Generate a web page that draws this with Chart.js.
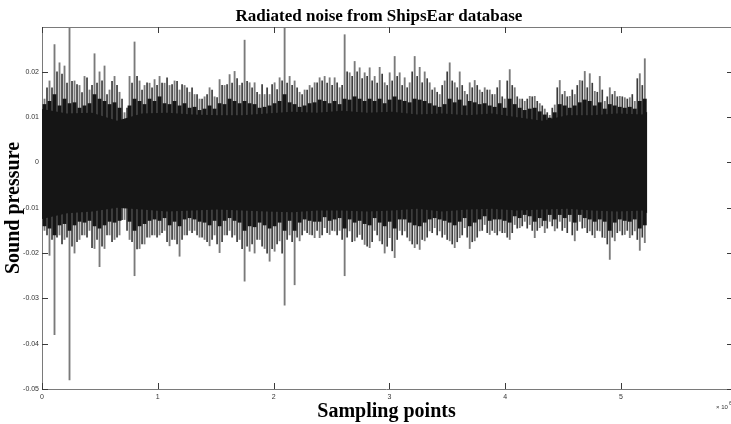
<!DOCTYPE html>
<html><head><meta charset="utf-8">
<script src="https://cdn.jsdelivr.net/npm/chart.js@4/dist/chart.umd.min.js"></script>
<style>html,body{margin:0;padding:0;background:#fff;}#wrap{width:731px;height:424px;}</style>
</head><body><div id="wrap"><canvas id="c" width="731" height="424"></canvas></div>
<script>
// ---- data ----
const binSize = 43200;           // samples per envelope bin
// outermost excursion in each bin (the thin spikes)
const peakHigh = [
 0.014,0.018,0.026,0.022,0.0213,0.030,0.018,0.017,0.019,0.016,
 0.024,0.020,0.0213,0.016,0.019,0.0155,0.011,0.019,0.0266,0.018,
 0.017,0.0175,0.0183,0.019,0.0175,0.017,0.018,0.016,0.017,0.0155,
 0.015,0.014,0.0145,0.0165,0.0145,0.0183,0.017,0.0194,0.0201,0.017,
 0.027,0.0176,0.0176,0.015,0.015,0.015,0.0176,0.0187,0.030,0.019,
 0.018,0.0155,0.016,0.017,0.0176,0.0187,0.019,0.0187,0.0187,0.0165,
 0.0282,0.0198,0.0223,0.0209,0.0198,0.0209,0.019,0.021,0.0176,0.0198,
 0.0234,0.0198,0.0187,0.0176,0.0234,0.021,0.020,0.0176,0.0165,0.015,
 0.018,0.022,0.0176,0.020,0.0157,0.0176,0.0181,0.016,0.0165,0.016,
 0.015,0.0181,0.014,0.0205,0.0165,0.014,0.0135,0.0146,0.0146,0.013,
 0.0118,0.0104,0.0127,0.0181,0.0157,0.0146,0.015,0.0181,0.0201,0.0196,
 0.0157,0.019,0.0135,0.0165,0.0157,0.0146,0.0143,0.0143,0.0135,0.0196,0.0229
];
const peakLow = [
 -0.015,-0.0205,-0.038,-0.016,-0.017,-0.048,-0.020,-0.017,-0.016,-0.015,
 -0.019,-0.023,-0.019,-0.016,-0.017,-0.016,-0.0126,-0.017,-0.025,-0.019,
 -0.018,-0.0165,-0.016,-0.016,-0.015,-0.0184,-0.017,-0.0207,-0.016,-0.015,
 -0.015,-0.0165,-0.017,-0.0184,-0.016,-0.0199,-0.016,-0.015,-0.016,-0.017,
 -0.0262,-0.0196,-0.020,-0.017,-0.019,-0.0218,-0.0196,-0.0173,-0.0315,-0.016,
 -0.027,-0.0173,-0.015,-0.0159,-0.0166,-0.0166,-0.0144,-0.0159,-0.0151,-0.015,
 -0.025,-0.0151,-0.0173,-0.0159,-0.0181,-0.0188,-0.015,-0.0173,-0.020,-0.0166,
 -0.021,-0.015,-0.0151,-0.0173,-0.0188,-0.0192,-0.0173,-0.0151,-0.0144,-0.0151,
 -0.0159,-0.0173,-0.0188,-0.0166,-0.0144,-0.019,-0.0173,-0.0151,-0.0137,-0.0159,
 -0.0155,-0.0151,-0.0155,-0.017,-0.0137,-0.0144,-0.013,-0.0137,-0.0166,-0.0144,
 -0.0155,-0.013,-0.0151,-0.013,-0.0144,-0.013,-0.0173,-0.013,-0.0144,-0.0151,
 -0.0166,-0.0151,-0.0166,-0.0214,-0.0173,-0.0151,-0.0159,-0.0166,-0.0151,-0.0194,-0.0177
];
// secondary excursions between neighbouring bins
const midHigh = [
 0.0165,0.0165,0.0200,0.0195,0.0175,0.0179,0.0172,0.0154,0.0187,0.0170,
 0.0175,0.0180,0.0150,0.0179,0.0170,0.0140,0.0120,0.0175,0.0190,0.0160,
 0.0176,0.0165,0.0170,0.0175,0.0187,0.0172,0.0179,0.0172,0.0165,0.0165,
 0.0150,0.0140,0.0150,0.0160,0.0143,0.0170,0.0172,0.0175,0.0185,0.0175,
 0.0179,0.0165,0.0155,0.0172,0.0165,0.0172,0.0161,0.0180,0.0175,0.0170,
 0.0165,0.0150,0.0160,0.0165,0.0176,0.0180,0.0175,0.0170,0.0176,0.0170,
 0.0200,0.0190,0.0200,0.0185,0.0190,0.0180,0.0175,0.0195,0.0170,0.0180,
 0.0190,0.0170,0.0165,0.0200,0.0190,0.0176,0.0185,0.0160,0.0155,0.0170,
 0.0200,0.0180,0.0165,0.0170,0.0150,0.0165,0.0170,0.0155,0.0160,0.0150,
 0.0165,0.0145,0.0180,0.0170,0.0145,0.0140,0.0140,0.0145,0.0135,0.0125,
 0.0110,0.0120,0.0165,0.0150,0.0145,0.0160,0.0170,0.0180,0.0165,0.0175,
 0.0155,0.0160,0.0145,0.0150,0.0145,0.0145,0.0140,0.0150,0.0185,0.0170
];
const midLow = [
 -0.0160,-0.0170,-0.0165,-0.0180,-0.0165,-0.0185,-0.0175,-0.0160,-0.0165,-0.0188,
 -0.0170,-0.0185,-0.0160,-0.0175,-0.0165,-0.0126,-0.0150,-0.0175,-0.0191,-0.0180,
 -0.0165,-0.0160,-0.0165,-0.0155,-0.0175,-0.0170,-0.0180,-0.0170,-0.0160,-0.0155,
 -0.0160,-0.0165,-0.0175,-0.0170,-0.0180,-0.0175,-0.0160,-0.0165,-0.0175,-0.0190,
 -0.0185,-0.0180,-0.0170,-0.0185,-0.0200,-0.0190,-0.0180,-0.0200,-0.0170,-0.0175,
 -0.0165,-0.0160,-0.0155,-0.0160,-0.0150,-0.0160,-0.0155,-0.0150,-0.0160,-0.0170,
 -0.0165,-0.0175,-0.0165,-0.0170,-0.0185,-0.0175,-0.0160,-0.0180,-0.0185,-0.0195,
 -0.0170,-0.0160,-0.0165,-0.0180,-0.0180,-0.0170,-0.0165,-0.0155,-0.0160,-0.0165,
 -0.0170,-0.0180,-0.0175,-0.0160,-0.0165,-0.0175,-0.0165,-0.0150,-0.0155,-0.0150,
 -0.0160,-0.0155,-0.0165,-0.0155,-0.0145,-0.0140,-0.0145,-0.0150,-0.0150,-0.0140,
 -0.0145,-0.0140,-0.0145,-0.0150,-0.0155,-0.0160,-0.0150,-0.0145,-0.0155,-0.0160,
 -0.0150,-0.0165,-0.0180,-0.0165,-0.0155,-0.0160,-0.0150,-0.0160,-0.0170,-0.0165
];
// edge of the solid dark band in each bin
const innerHigh = [
 0.0128,0.0135,0.0150,0.0125,0.0140,0.0130,0.0132,0.0120,0.0125,0.0130,
 0.0150,0.0140,0.0135,0.0128,0.0132,0.0120,0.0090,0.0125,0.0140,0.0135,
 0.0128,0.0140,0.0135,0.0145,0.0130,0.0128,0.0135,0.0125,0.0130,0.0120,
 0.0122,0.0115,0.0118,0.0125,0.0118,0.0130,0.0128,0.0140,0.0135,0.0130,
 0.0135,0.0130,0.0128,0.0120,0.0122,0.0125,0.0130,0.0135,0.0150,0.0132,
 0.0128,0.0122,0.0125,0.0130,0.0132,0.0138,0.0135,0.0130,0.0135,0.0128,
 0.0140,0.0138,0.0145,0.0140,0.0135,0.0140,0.0135,0.0140,0.0130,0.0138,
 0.0145,0.0138,0.0135,0.0132,0.0140,0.0138,0.0135,0.0130,0.0125,0.0122,
 0.0128,0.0140,0.0132,0.0138,0.0125,0.0135,0.0132,0.0128,0.0130,0.0125,
 0.0122,0.0130,0.0120,0.0140,0.0128,0.0120,0.0115,0.0118,0.0120,0.0112,
 0.0105,0.0098,0.0110,0.0128,0.0125,0.0120,0.0125,0.0132,0.0138,0.0135,
 0.0125,0.0132,0.0118,0.0128,0.0125,0.0122,0.0120,0.0122,0.0118,0.0135,0.0140
];
const innerLow = [
 -0.0140,-0.0145,-0.0160,-0.0138,-0.0135,-0.0150,-0.0138,-0.0130,-0.0132,-0.0128,
 -0.0140,-0.0145,-0.0138,-0.0130,-0.0132,-0.0128,-0.0100,-0.0130,-0.0150,-0.0140,
 -0.0135,-0.0128,-0.0125,-0.0128,-0.0122,-0.0138,-0.0130,-0.0140,-0.0125,-0.0122,
 -0.0125,-0.0130,-0.0132,-0.0138,-0.0128,-0.0140,-0.0128,-0.0122,-0.0128,-0.0132,
 -0.0150,-0.0140,-0.0142,-0.0132,-0.0138,-0.0145,-0.0140,-0.0132,-0.0150,-0.0128,
 -0.0150,-0.0132,-0.0125,-0.0128,-0.0130,-0.0130,-0.0120,-0.0128,-0.0125,-0.0122,
 -0.0145,-0.0125,-0.0132,-0.0128,-0.0135,-0.0138,-0.0122,-0.0132,-0.0140,-0.0130,
 -0.0145,-0.0125,-0.0125,-0.0132,-0.0138,-0.0140,-0.0132,-0.0125,-0.0122,-0.0125,
 -0.0128,-0.0132,-0.0138,-0.0130,-0.0122,-0.0140,-0.0132,-0.0125,-0.0118,-0.0128,
 -0.0125,-0.0125,-0.0128,-0.0132,-0.0118,-0.0122,-0.0115,-0.0118,-0.0130,-0.0122,
 -0.0128,-0.0115,-0.0125,-0.0115,-0.0122,-0.0115,-0.0132,-0.0115,-0.0122,-0.0125,
 -0.0130,-0.0125,-0.0130,-0.0150,-0.0132,-0.0125,-0.0128,-0.0130,-0.0125,-0.0145,-0.0138
];
const coreStep = 5;              // envelope bins per core point
const coreHigh = [0.0118,0.0108,0.0110,0.0092,0.0108,0.0110,0.0106,0.0104,0.0104,0.0108,0.0112,0.0110,0.0114,
                  0.0110,0.0112,0.0106,0.0108,0.0104,0.0108,0.0100,0.0092,0.0104,0.0104,0.0108,0.0106,0.0112];
const coreLow  = [-0.0125,-0.0112,-0.0108,-0.0100,-0.0104,-0.0108,-0.0106,-0.0104,-0.0106,-0.0108,-0.0110,-0.0106,-0.0106,
                  -0.0108,-0.0106,-0.0102,-0.0108,-0.0104,-0.0102,-0.0106,-0.0104,-0.0102,-0.0106,-0.0108,-0.0106,-0.0112];
const xTickValues = [0,1,2,3,4,5];           // x 10^6
const yTickValues = [-0.05,-0.04,-0.03,-0.02,-0.01,0,0.01,0.02];
const xMax = 5.95e6, yMin = -0.05, yMax = 0.0299;

// ---- build datasets ----
const nBins = peakHigh.length;
const spikeData = peakHigh.map((h,i)=>({x:(i+0.5)*binSize, y:[peakLow[i], h]}));
const midData = midHigh.map((h,i)=>({x:(i+1)*binSize, y:[midLow[i], h]}));
const innerData = innerHigh.map((h,i)=>({x:(i+0.5)*binSize, y:[innerLow[i], h]}));
const coreX = k => Math.min(k*coreStep, nBins)*binSize;
const coreHiData = coreHigh.map((v,k)=>({x:coreX(k), y:v}));
const coreLoData = coreLow.map((v,k)=>({x:coreX(k), y:v}));

const axisColor = '#7a7a7a';
const frame = {
  id:'frame',
  beforeDatasetsDraw(chart){
    const {ctx, chartArea:a, scales:{x,y}} = chart;
    ctx.save();
    ctx.strokeStyle = axisColor; ctx.lineWidth = 1;
    ctx.beginPath();
    ctx.moveTo(a.left+0.5, a.bottom+0.5); ctx.lineTo(a.left+0.5, a.top+0.5); ctx.lineTo(731, a.top+0.5);
    ctx.moveTo(a.left, a.bottom+0.5); ctx.lineTo(731, a.bottom+0.5);
    ctx.stroke();
    ctx.strokeStyle = '#3a3a3a';
    ctx.beginPath();
    xTickValues.forEach(v=>{
      const px = Math.round(x.getPixelForValue(v*1e6))+0.5;
      ctx.moveTo(px, a.bottom); ctx.lineTo(px, a.bottom-6);
      ctx.moveTo(px, a.top); ctx.lineTo(px, a.top+6);
    });
    yTickValues.forEach(v=>{
      const py = Math.round(y.getPixelForValue(v))+0.5;
      ctx.moveTo(a.left, py); ctx.lineTo(a.left+6, py);
      ctx.moveTo(a.right, py); ctx.lineTo(a.right-4, py);
    });
    ctx.stroke();
    ctx.restore();
  },
  afterDraw(chart){
    const {ctx} = chart;
    ctx.save();
    ctx.fillStyle = '#000';
    ctx.font = 'bold 17px "Liberation Serif", "Times New Roman", serif';
    ctx.textAlign = 'center'; ctx.textBaseline = 'middle';
    ctx.fillText('Radiated noise from ShipsEar database', 379, 17);
    ctx.fillStyle = '#333';
    ctx.font = '6px "Liberation Sans", Arial, sans-serif';
    ctx.textAlign = 'left';
    ctx.fillText('\u00d7 10', 716, 407);
    ctx.font = '5px "Liberation Sans", Arial, sans-serif';
    ctx.fillText('6', 729, 404);
    ctx.restore();
  }
};

new Chart(document.getElementById('c'), {
  type:'bar',
  data:{datasets:[
    {type:'line', data:coreHiData, borderColor:'#151515', backgroundColor:'#151515', borderWidth:0,
     pointRadius:0, fill:'+1', tension:0, order:0},
    {type:'line', data:coreLoData, borderColor:'#151515', backgroundColor:'#151515', borderWidth:0,
     pointRadius:0, fill:false, tension:0, order:0},
    {type:'bar', data:innerData, backgroundColor:'#151515', barThickness:3.2, borderWidth:0, grouped:false, order:1},
    {type:'bar', data:midData, backgroundColor:'#3a3a3a', barThickness:1, borderWidth:0, grouped:false, order:2},
    {type:'bar', data:spikeData, backgroundColor:'#7a7a7a', barThickness:1.2, borderWidth:0, grouped:false, order:3}
  ]},
  options:{
    responsive:false, animation:false, devicePixelRatio:1, events:[],
    layout:{padding:{top:27, left:0, right:0, bottom:0}},
    plugins:{legend:{display:false}, tooltip:{enabled:false}, title:{display:false}},
    scales:{
      x:{type:'linear', min:0, max:xMax, offset:false,
         afterFit(s){ s.height = 35; },
         afterBuildTicks(s){ s.ticks = xTickValues.map(v=>({value:v*1e6})); },
         grid:{display:false, drawTicks:false}, border:{display:false},
         ticks:{font:{family:'"Liberation Sans", Arial, sans-serif', size:7}, color:'#333', padding:4, maxRotation:0,
                callback:v=>String(Math.round(v/1e6))},
         title:{display:true, text:'Sampling points', color:'#000',
                font:{family:'"Liberation Serif", "Times New Roman", serif', size:20, weight:'bold'}, padding:{top:0,bottom:0}}},
      y:{type:'linear', min:yMin, max:yMax,
         afterFit(s){ s.width = 42; },
         afterBuildTicks(s){ s.ticks = yTickValues.map(v=>({value:v})); },
         grid:{display:false, drawTicks:false}, border:{display:false},
         ticks:{font:{family:'"Liberation Sans", Arial, sans-serif', size:7}, color:'#333', padding:3,
                callback:v=>String(+v.toFixed(2))},
         title:{display:true, text:'Sound pressure', color:'#000',
                font:{family:'"Liberation Serif", "Times New Roman", serif', size:20, weight:'bold'}, padding:{top:1.5,bottom:0}}}
    }
  },
  plugins:[frame]
});
</script></body></html>
